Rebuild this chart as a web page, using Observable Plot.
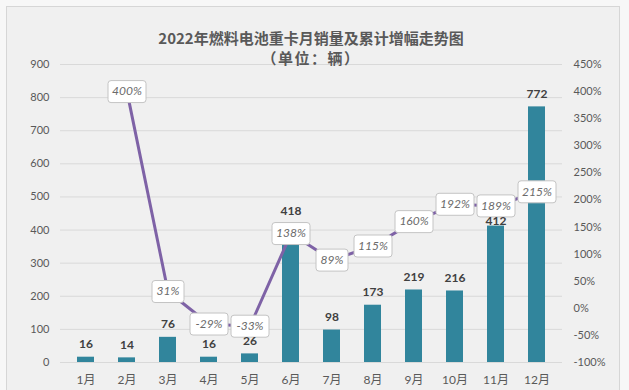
<!DOCTYPE html>
<html><head><meta charset="utf-8">
<script src="https://cdn.jsdelivr.net/npm/d3@7"></script>
<script src="https://cdn.jsdelivr.net/npm/@observablehq/plot@0.6"></script>
<style>
html,body{margin:0;padding:0;width:629px;height:390px;overflow:hidden;background:#f7f7f7;}
#panel{position:absolute;left:6px;top:6px;width:614px;height:400px;box-sizing:border-box;border:1px solid #d6d6d6;background:#f0f0f0;}
#chart{position:absolute;left:0;top:0;}
.t{position:absolute;left:0;width:622px;text-align:center;font-family:"Noto Sans CJK SC",sans-serif;font-weight:bold;color:#595959;line-height:20px;}
</style></head><body>
<div id="panel"></div>
<div id="chart"></div>
<div class="t" style="top:28px;font-size:15px">2022年燃料电池重卡月销量及累计增幅走势图</div>
<div class="t" style="top:48px;font-size:15px;letter-spacing:1.5px">（单位：辆）</div>
<script>
const months = ["1月","2月","3月","4月","5月","6月","7月","8月","9月","10月","11月","12月"];
const sales = [16,14,76,16,26,418,98,173,219,216,412,772];
const growth = [null,400,31,-29,-33,138,89,115,160,192,189,215];
const leftTicks = [0,100,200,300,400,500,600,700,800,900];
const rightTicks = [-100,-50,0,50,100,150,200,250,300,350,400,450];

const toLeft = p => (p + 100) * 900 / 550;
const data = months.map((m, i) => ({month: m, sales: sales[i], growth: growth[i]}));
const lineData = data.filter(d => d.growth != null);

function box(w, h, r) {
  return {draw(ctx) {
    const x0 = -w / 2, y0 = -h / 2, x1 = w / 2, y1 = h / 2;
    ctx.moveTo(x0 + r, y0);
    ctx.lineTo(x1 - r, y0);
    ctx.arcTo(x1, y0, x1, y0 + r, r);
    ctx.lineTo(x1, y1 - r);
    ctx.arcTo(x1, y1, x1 - r, y1, r);
    ctx.lineTo(x0 + r, y1);
    ctx.arcTo(x0, y1, x0, y1 - r, r);
    ctx.lineTo(x0, y0 + r);
    ctx.arcTo(x0, y0, x0 + r, y0, r);
    ctx.closePath();
  }};
}
const pctText = d => d.growth + "%";

const chart = Plot.plot({
  width: 629,
  height: 390,
  marginTop: 64,
  marginBottom: 28,
  marginLeft: 60,
  marginRight: 67,
  style: {background: "transparent", fontFamily: "Lato, 'Noto Sans CJK SC', sans-serif", fontSize: "11px", overflow: "visible"},
  x: {domain: months, paddingInner: 0.59, paddingOuter: 0.295},
  y: {domain: [0, 900]},
  marks: [
    Plot.ruleY(leftTicks, {stroke: "#d9d9d9", strokeWidth: 1}),
    Plot.axisY(leftTicks, {tickSize: 0, tickPadding: 11, color: "#595959", fontSize: 11, label: null}),
    Plot.axisY(rightTicks.map(toLeft), {anchor: "right", tickSize: 0, tickPadding: 11, color: "#595959", fontSize: 11, label: null,
      tickFormat: v => Math.round(v * 550 / 900 - 100) + "%"}),
    Plot.axisX({tickSize: 0, tickPadding: 13, color: "#595959", fontSize: 12, label: null}),
    Plot.barY(data, {x: "month", y: "sales", fill: "#31859C"}),
    Plot.line(lineData, {x: "month", y: d => toLeft(d.growth), stroke: "#7e62a6", strokeWidth: 3}),
    Plot.dot(lineData.filter(d => pctText(d).length >= 4), {x: "month", y: d => toLeft(d.growth), symbol: box(38, 22, 3), fill: "#ffffff", stroke: "#c4c4c4", strokeWidth: 1}),
    Plot.dot(lineData.filter(d => pctText(d).length < 4), {x: "month", y: d => toLeft(d.growth), symbol: box(32, 22, 3), fill: "#ffffff", stroke: "#c4c4c4", strokeWidth: 1}),
    Plot.text(lineData, {x: "month", y: d => toLeft(d.growth), text: pctText, fontStyle: "italic", fill: "#6b6b6b", fontSize: 12}),
    Plot.text(data.filter(d => d.month !== "11月"), {x: "month", y: "sales", text: d => String(d.sales), dy: -13, fontWeight: "bold", fill: "#404040", fontSize: 12}),
    Plot.text(data.filter(d => d.month === "11月"), {x: "month", y: "sales", text: d => String(d.sales), dy: -5, fontWeight: "bold", fill: "#404040", fontSize: 12})
  ]
});
document.getElementById("chart").appendChild(chart);
</script>
</body></html>
